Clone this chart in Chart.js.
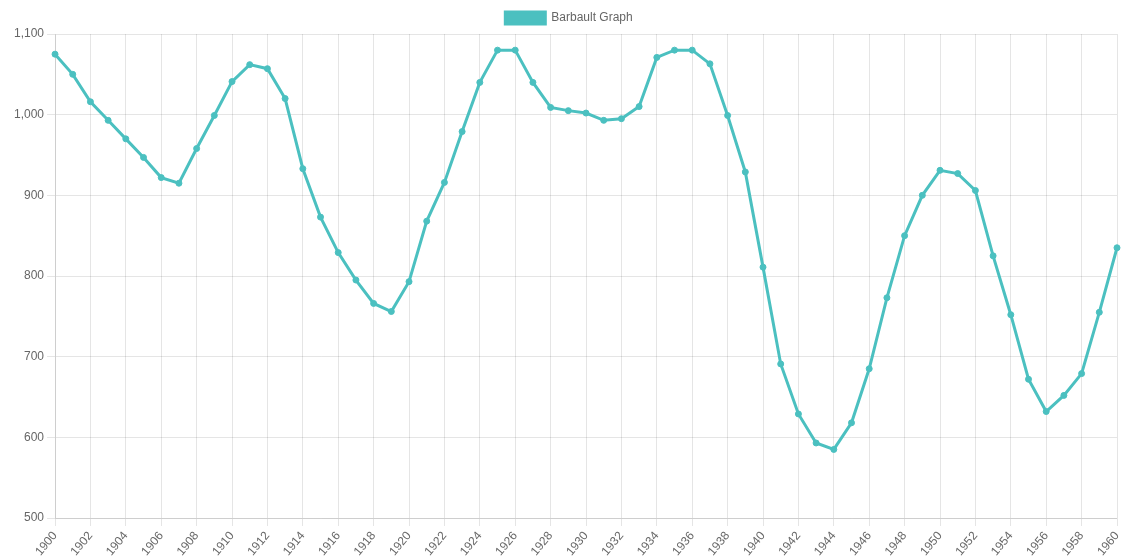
<!DOCTYPE html>
<html>
<head>
<meta charset="utf-8">
<title>Barbault Graph</title>
<script src="https://cdn.jsdelivr.net/npm/chart.js@4"></script>
<style>
  html, body { margin: 0; padding: 0; background: #fff; }
  #wrap { width: 1127px; height: 557px; }
</style>
</head>
<body>
<div id="wrap"><canvas id="barbault" width="1127" height="557"></canvas></div>
<script>
// years 1900..1960
const years = [
  '1900', '1901', '1902', '1903', '1904', '1905', '1906', '1907', '1908', '1909',
  '1910', '1911', '1912', '1913', '1914', '1915', '1916', '1917', '1918', '1919',
  '1920', '1921', '1922', '1923', '1924', '1925', '1926', '1927', '1928', '1929',
  '1930', '1931', '1932', '1933', '1934', '1935', '1936', '1937', '1938', '1939',
  '1940', '1941', '1942', '1943', '1944', '1945', '1946', '1947', '1948', '1949',
  '1950', '1951', '1952', '1953', '1954', '1955', '1956', '1957', '1958', '1959',
  '1960'
];

const barbault = [
  1075, 1050, 1016, 993, 970, 947, 922, 915, 958, 999,
  1041, 1062, 1057, 1020, 933, 873, 829, 795, 766, 756,
  793, 868, 916, 979, 1040, 1080, 1080, 1040, 1009, 1005,
  1002, 993, 995, 1010, 1071, 1080, 1080, 1063, 999, 929,
  811, 691, 629, 593, 585, 618, 685, 773, 850, 900,
  931, 927, 906, 825, 752, 672, 632, 652, 679, 755,
  835
];

const yMin = 500;
const yMax = 1100;

const teal = 'rgb(75, 192, 192)';

Chart.defaults.font.family = '"Helvetica Neue", Helvetica, Arial, "Liberation Sans", sans-serif';
Chart.defaults.font.size = 12;
Chart.defaults.color = '#666';

new Chart(document.getElementById('barbault'), {
  type: 'line',
  data: {
    labels: years,
    datasets: [{
      label: 'Barbault Graph',
      data: barbault,
      borderColor: teal,
      backgroundColor: teal,
      borderWidth: 3,
      pointRadius: 3,
      pointBorderWidth: 1,
      pointBackgroundColor: teal,
      tension: 0,
      fill: false,
    }],
  },
  options: {
    responsive: false,
    animation: false,
    layout: { padding: { left: 11, right: 0, top: 2 } },
    plugins: {
      legend: {
        labels: { boxWidth: 40, boxHeight: 12 },
      },
      tooltip: { enabled: false },
    },
    scales: {
      x: {
        grid: { color: 'rgba(0,0,0,0.1)' },
        ticks: { maxRotation: 50, minRotation: 50 },
        // keep the plot edges where the original had them
        afterFit: (axis) => {
          axis.height = 39;
          axis.paddingRight = 10;
        },
      },
      y: {
        min: yMin,
        max: yMax,
        grid: { color: 'rgba(0,0,0,0.1)' },
        ticks: { stepSize: 100 },
      },
    },
  },
});
</script>
</body>
</html>
